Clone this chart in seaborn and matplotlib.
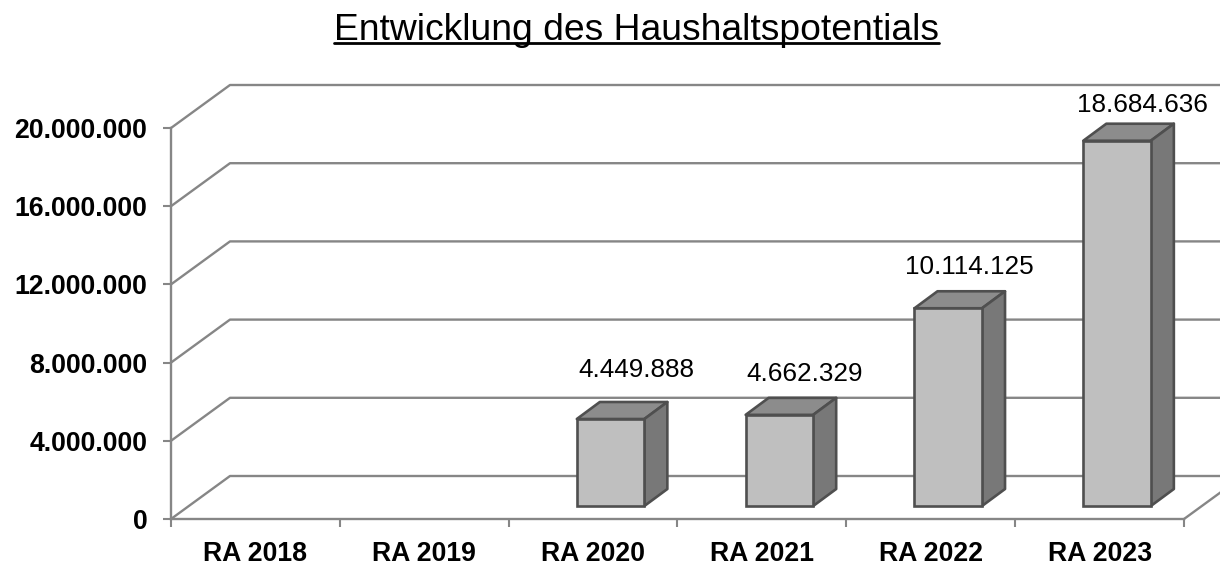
import math
import matplotlib
matplotlib.use('Agg')
import matplotlib.pyplot as plt
import matplotlib.transforms as mtrans
import pandas as pd
import seaborn as sns
from matplotlib.lines import Line2D
from matplotlib.patches import Polygon

# data
years = ['RA 2018', 'RA 2019', 'RA 2020', 'RA 2021', 'RA 2022', 'RA 2023']
potential = [float('nan'), float('nan'), 4449888, 4662329, 10114125, 18684636]
y_ticks = [0, 4000000, 8000000, 12000000, 16000000, 20000000]

GRID = '#868686'
EDGE = '#4f4f4f'


def dotted(v):
    return f'{int(v):,}'.replace(',', '.')


sns.set_theme(style='white')
plt.rcParams['font.family'] = ['Liberation Sans', 'DejaVu Sans']

W, H = 1220, 565
fig = plt.figure(figsize=(W / 100, H / 100), dpi=100)
ax = fig.add_axes([171 / W, (H - 519) / H, (1184 - 171) / W, (519 - 128) / H])

df = pd.DataFrame({'year': years, 'value': potential})
sns.barplot(data=df, x='year', y='value', order=years, width=0.4, ax=ax,
            color='#bfbfbf', saturation=1, edgecolor=EDGE, linewidth=1.9, zorder=5)
ax.set_xlim(-0.5, 5.5)
ax.set_ylim(0, 20000000)
ax.set_xlabel('')
ax.set_ylabel('')
ax.patch.set_alpha(0)

# pixel offsets of the pseudo 3D look
wall_x, wall_y = 59, 43
front_x, front_y = 17.5, 13
deep_x, deep_y = 23, 17

# back wall
for t in y_ticks:
    x0, y0 = ax.transData.transform((-0.5, t))
    x1 = ax.transData.transform((5.5, t))[0]
    fig.add_artist(Line2D([x0, x0 + wall_x, x1 + wall_x], [y0, y0 + wall_y, y0 + wall_y],
                          transform=mtrans.IdentityTransform(), color=GRID, lw=1.7, zorder=0))
x1, y1 = ax.transData.transform((5.5, 0))
fig.add_artist(Line2D([x1, x1 + wall_x], [y1, y1 + wall_y], transform=mtrans.IdentityTransform(),
                      color=GRID, lw=1.7, zorder=0))

# bars: move front face forward from the wall, add top and side
shift = mtrans.offset_copy(ax.transData, fig=fig, x=front_x, y=front_y, units='dots')
label_dx = {2: 26, 3: 25, 4: 21, 5: 25}
label_dy = {2: 49, 3: 41, 4: 41, 5: 36}
for bar in ax.patches:
    h = bar.get_height()
    if math.isnan(h) or h == 0:
        continue
    bar.set_transform(shift)
    bar.set_clip_on(False)
    xa, ya = shift.transform((bar.get_x(), 0))
    xb, yb = shift.transform((bar.get_x() + bar.get_width(), h))
    top = [(xa, yb), (xb, yb), (xb + deep_x, yb + deep_y), (xa + deep_x, yb + deep_y)]
    side = [(xb, ya), (xb + deep_x, ya + deep_y), (xb + deep_x, yb + deep_y), (xb, yb)]
    for pts, col in ((top, '#8c8c8c'), (side, '#787878')):
        ax.add_patch(Polygon(pts, closed=True, transform=mtrans.IdentityTransform(), facecolor=col,
                             edgecolor=EDGE, lw=1.9, joinstyle='round', zorder=4, clip_on=False))
    i = round(bar.get_x() + bar.get_width() / 2)
    ax.text((xa + xb) / 2 + label_dx[i], yb + label_dy[i], dotted(h), transform=mtrans.IdentityTransform(),
            ha='center', va='center', fontsize=18.8, color='black', zorder=6)

# axes
sns.despine(ax=ax)
for s in ('left', 'bottom'):
    ax.spines[s].set_color(GRID)
    ax.spines[s].set_linewidth(1.7)
ax.set_yticks(y_ticks, [dotted(t) for t in y_ticks])
ax.set_xticks([i - 0.5 for i in range(7)], [''] * 7)
ax.set_xticks(range(6), years, minor=True)
ax.tick_params(axis='both', which='major', length=6, width=1.5, color=GRID, left=True, bottom=True)
ax.tick_params(axis='x', which='minor', length=0, pad=16)
ax.tick_params(axis='y', pad=11)
for lab in ax.get_yticklabels() + ax.get_xticklabels(minor=True):
    lab.set_fontweight('bold')
    lab.set_fontsize(19.2)
    lab.set_color('black')

# title, underlined by hand
title = fig.text(636 / W, 1 - 30 / H, 'Entwicklung des Haushaltspotentials', ha='center', va='center',
                 fontsize=26.8, color='black')
box = title.get_window_extent(fig.canvas.get_renderer())
fig.add_artist(Line2D([box.x0, box.x1], [H - 43, H - 43], transform=mtrans.IdentityTransform(),
                      color='black', lw=2))

fig.savefig('out.png', dpi=100, facecolor='white')
